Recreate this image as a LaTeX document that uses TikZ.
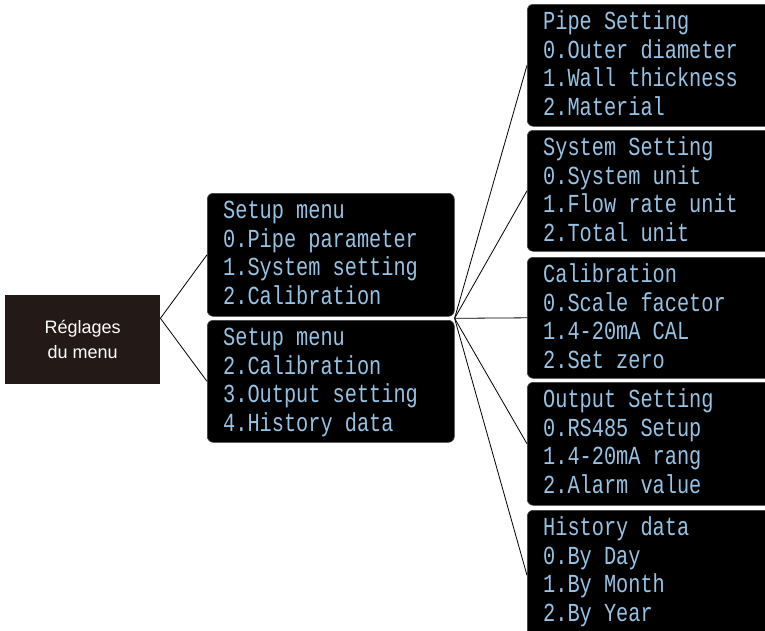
\documentclass[tikz,border=0pt]{standalone}
\usepackage{fontspec}
\usetikzlibrary{positioning,calc}
\newfontfamily\lcdfont[FakeStretch=0.78]{Liberation Mono}
\newfontfamily\labelfont{Liberation Sans}
\newcommand{\lcdtop}{\rule{0pt}{20pt}}
\definecolor{menubrown}{RGB}{35,25,22}
\definecolor{lcd}{RGB}{150,195,228}
\tikzstyle{lcdbox} = [rectangle, rounded corners=6pt, fill=black, draw=black!75, line width=0.6pt, anchor=north west, inner sep=0pt]
\tikzstyle{lcdtext} = [anchor=north west, inner sep=0pt, align=left, text=lcd, font={\lcdfont\fontsize{26pt}{28.8pt}\selectfont}]
\tikzstyle{link} = [draw, line width=0.8pt]

\begin{document}
\begin{tikzpicture}[x=1pt, y=-1pt]

        \useasboundingbox (0,0) rectangle (765,630);
        \clip (0,0) rectangle (765,630);

        \node[rectangle, fill=menubrown, minimum width=155pt, minimum height=89pt, anchor=north west,
              text=white, align=center, font={\labelfont\fontsize{18pt}{25pt}\selectfont}] (menu) at (5,295) {R\'eglages\\du menu};

        \node[lcdbox, minimum width=247pt, minimum height=123pt] (setupA) at (207,193) {};
        \node[lcdtext] (setupA text) at ($(setupA.north west)+(16,5)$)
            {\lcdtop Setup menu\\0.Pipe parameter\\1.System setting\\2.Calibration};

        \node[lcdbox, minimum width=247pt, minimum height=122pt] (setupB) at (207,320) {};
        \node[lcdtext] (setupB text) at ($(setupB.north west)+(16,5)$)
            {\lcdtop Setup menu\\2.Calibration\\3.Output setting\\4.History data};

        \node[lcdbox, minimum width=248pt, minimum height=122pt] (pipe) at (527,4) {};
        \node[lcdtext] (pipe text) at ($(pipe.north west)+(16,5)$)
            {\lcdtop Pipe Setting\\0.Outer diameter\\1.Wall thickness\\2.Material};

        \node[lcdbox, minimum width=248pt, minimum height=121pt] (system) at (527,130) {};
        \node[lcdtext] (system text) at ($(system.north west)+(16,5)$)
            {\lcdtop System Setting\\0.System unit\\1.Flow rate unit\\2.Total unit};

        \node[lcdbox, minimum width=248pt, minimum height=121pt] (calib) at (527,257) {};
        \node[lcdtext] (calib text) at ($(calib.north west)+(16,5)$)
            {\lcdtop Calibration\\0.Scale facetor\\1.4-20mA CAL\\2.Set zero};

        \node[lcdbox, minimum width=248pt, minimum height=123pt] (output) at (527,382) {};
        \node[lcdtext] (output text) at ($(output.north west)+(16,5)$)
            {\lcdtop Output Setting\\0.RS485 Setup\\1.4-20mA rang\\2.Alarm value};

        \node[lcdbox, minimum width=248pt, minimum height=130pt] (history) at (527,510) {};
        \node[lcdtext] (history text) at ($(history.north west)+(16,5)$)
            {\lcdtop History data\\0.By Day\\1.By Month\\2.By Year};

        \coordinate (gap) at ($(setupA.south)!.5!(setupB.north)$);
        \coordinate (fork) at (menu.east |- gap);
        \coordinate (hub) at (setupA.east |- gap);

        \foreach \m in {setupA, setupB}
            \draw[link] (fork) -- (\m.west);
        \foreach \m in {pipe, system, calib, output, history}
            \draw[link] (hub) -- (\m.west);

\end{tikzpicture}
\end{document}
